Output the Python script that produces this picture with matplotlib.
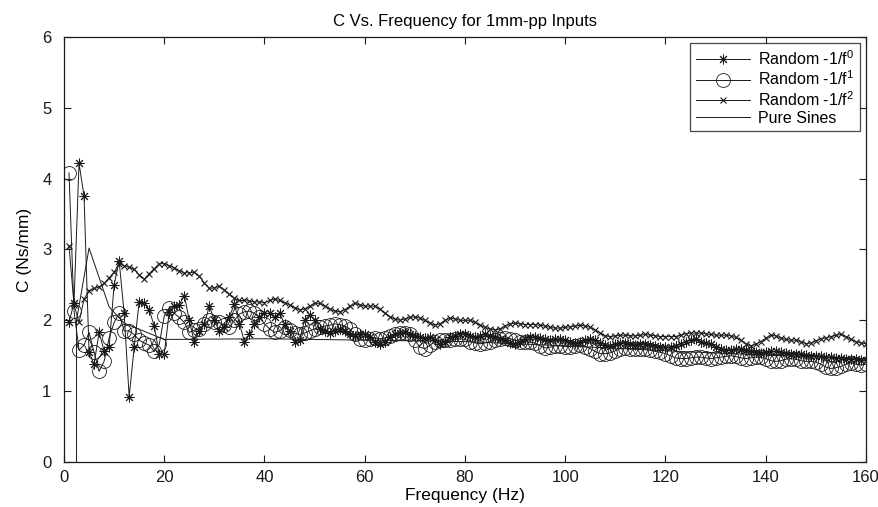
import numpy as np
import matplotlib
matplotlib.use("Agg")
import matplotlib.pyplot as plt

plt.rcParams['font.family'] = ['Liberation Sans', 'DejaVu Sans']
plt.rcParams['mathtext.fontset'] = 'custom'
plt.rcParams['mathtext.rm'] = 'Liberation Sans'
plt.rcParams['mathtext.it'] = 'Liberation Sans'

# frequency points of the random-input runs (1 Hz steps)
freq_hz = np.arange(1, 161)

# Random -1/f^0 (asterisks)
c_f0 = [
    1.97, 2.25, 4.22, 3.75, 1.55, 1.38, 1.83, 1.57, 1.62, 2.50,
    2.84, 2.10, 0.92, 1.62, 2.26, 2.24, 2.15, 1.92, 1.52, 1.52,
    2.12, 2.20, 2.22, 2.35, 2.00, 1.69, 1.85, 1.95, 2.20, 2.00,
    1.85, 1.90, 2.05, 2.23, 1.95, 1.70, 1.80, 1.95, 2.05, 2.10,
    2.10, 2.05, 2.10, 1.95, 1.85, 1.70, 1.72, 2.00, 2.08, 2.00,
    1.88, 1.85, 1.82, 1.85, 1.88, 1.85, 1.80, 1.78, 1.80, 1.80,
    1.76, 1.70, 1.66, 1.70, 1.76, 1.80, 1.82, 1.83, 1.80, 1.78,
    1.76, 1.75, 1.77, 1.72, 1.66, 1.70, 1.76, 1.78, 1.80, 1.80,
    1.78, 1.76, 1.78, 1.80, 1.78, 1.76, 1.74, 1.72, 1.68, 1.66,
    1.70, 1.74, 1.76, 1.76, 1.75, 1.73, 1.72, 1.73, 1.74, 1.72,
    1.70, 1.68, 1.69, 1.72, 1.74, 1.72, 1.68, 1.65, 1.64, 1.66,
    1.68, 1.68, 1.66, 1.65, 1.66, 1.66, 1.65, 1.64, 1.62, 1.62,
    1.63, 1.64, 1.66, 1.70, 1.72, 1.73, 1.70, 1.68, 1.66, 1.63,
    1.60, 1.58, 1.58, 1.59, 1.60, 1.58, 1.56, 1.55, 1.54, 1.55,
    1.56, 1.56, 1.55, 1.54, 1.53, 1.52, 1.52, 1.51, 1.50, 1.50,
    1.49, 1.48, 1.48, 1.47, 1.47, 1.46, 1.46, 1.45, 1.44, 1.44,
]

# Random -1/f^1 (circles)
c_f1 = [
    4.08, 2.13, 1.58, 1.65, 1.83, 1.55, 1.28, 1.42, 1.75, 1.97,
    2.10, 1.85, 1.85, 1.80, 1.72, 1.68, 1.65, 1.56, 1.66, 2.06,
    2.18, 2.10, 2.04, 1.97, 1.83, 1.86, 1.88, 1.95, 2.00, 1.98,
    1.97, 1.93, 1.90, 2.00, 2.09, 2.12, 2.13, 2.10, 2.04, 1.95,
    1.88, 1.83, 1.85, 1.90, 1.86, 1.82, 1.80, 1.82, 1.85, 1.88,
    1.90, 1.92, 1.93, 1.95, 1.94, 1.92, 1.88, 1.80, 1.73, 1.72,
    1.74, 1.75, 1.74, 1.75, 1.78, 1.80, 1.82, 1.82, 1.80, 1.72,
    1.62, 1.60, 1.65, 1.70, 1.72, 1.72, 1.72, 1.73, 1.74, 1.73,
    1.70, 1.68, 1.67, 1.68, 1.70, 1.72, 1.74, 1.75, 1.74, 1.72,
    1.70, 1.70, 1.69, 1.68, 1.64, 1.61, 1.62, 1.64, 1.64, 1.63,
    1.63, 1.64, 1.65, 1.63, 1.60, 1.56, 1.53, 1.53, 1.54, 1.57,
    1.60, 1.61, 1.60, 1.60, 1.60, 1.60, 1.58, 1.56, 1.55, 1.53,
    1.50, 1.47, 1.46, 1.46, 1.47, 1.48, 1.48, 1.47, 1.46, 1.47,
    1.48, 1.49, 1.50, 1.49, 1.47, 1.46, 1.47, 1.48, 1.48, 1.46,
    1.43, 1.42, 1.43, 1.45, 1.46, 1.45, 1.43, 1.42, 1.42, 1.41,
    1.38, 1.34, 1.32, 1.33, 1.35, 1.38, 1.40, 1.38, 1.37, 1.38,
]

# Random -1/f^2 (crosses)
c_f2 = [
    3.05, 2.22, 1.97, 2.30, 2.42, 2.45, 2.47, 2.52, 2.60, 2.68,
    2.80, 2.77, 2.75, 2.72, 2.64, 2.58, 2.66, 2.73, 2.80, 2.80,
    2.77, 2.74, 2.70, 2.67, 2.67, 2.68, 2.62, 2.53, 2.45, 2.46,
    2.48, 2.43, 2.37, 2.31, 2.28, 2.28, 2.27, 2.26, 2.26, 2.25,
    2.28, 2.30, 2.28, 2.25, 2.22, 2.18, 2.15, 2.16, 2.20, 2.24,
    2.24, 2.20, 2.16, 2.13, 2.12, 2.15, 2.20, 2.24, 2.22, 2.20,
    2.20, 2.20, 2.16, 2.10, 2.05, 2.02, 2.00, 2.02, 2.04, 2.05,
    2.03, 2.00, 1.96, 1.93, 1.95, 2.00, 2.03, 2.02, 2.00, 2.00,
    2.00, 1.97, 1.93, 1.90, 1.88, 1.86, 1.88, 1.92, 1.95, 1.96,
    1.95, 1.94, 1.94, 1.94, 1.93, 1.92, 1.90, 1.89, 1.89, 1.90,
    1.91, 1.92, 1.93, 1.92, 1.90, 1.86, 1.82, 1.78, 1.77, 1.78,
    1.79, 1.79, 1.78, 1.78, 1.79, 1.80, 1.79, 1.78, 1.77, 1.77,
    1.77, 1.77, 1.79, 1.81, 1.82, 1.82, 1.82, 1.81, 1.80, 1.79,
    1.79, 1.79, 1.78, 1.76, 1.72, 1.67, 1.64, 1.66, 1.70, 1.75,
    1.79, 1.78, 1.75, 1.73, 1.72, 1.72, 1.70, 1.67, 1.68, 1.71,
    1.74, 1.75, 1.77, 1.79, 1.80, 1.77, 1.73, 1.70, 1.68, 1.67,
]

# Pure Sines (plain line, few test frequencies)
sines_hz = [2.5, 2.5, 5, 9, 12, 20, 40, 60, 80, 100, 120, 140, 160]
c_sines = [-0.5, 2.0, 3.02, 2.19, 1.96, 1.73, 1.74, 1.72, 1.70, 1.64, 1.57, 1.51, 1.46]

labels = ['Random -1/f$^0$', 'Random -1/f$^1$', 'Random -1/f$^2$', 'Pure Sines']

ink = '#1a1a1a'

fig = plt.figure(figsize=(8.79, 5.07), dpi=100)
ax = fig.add_axes([0.0728, 0.0888, 0.9124, 0.8382])

ax.plot(freq_hz, c_f0, color=ink, lw=0.7, marker=(8, 2, 0), ms=7, mew=0.7,
        label=labels[0])
ax.plot(freq_hz, c_f1, color=ink, lw=0.7, marker='o', ms=10, mew=0.6,
        fillstyle='none', label=labels[1])
ax.plot(freq_hz, c_f2, color=ink, lw=0.7, marker='x', ms=5, mew=0.8,
        label=labels[2])
ax.plot(sines_hz, c_sines, color=ink, lw=0.7, label=labels[3])

ax.set_xlim(0, 160)
ax.set_ylim(0, 6)
ax.set_xticks(range(0, 161, 20))
ax.set_yticks(range(0, 7))
ax.tick_params(direction='in', length=5, width=0.8, top=True, right=True,
               labelsize=12, colors=ink)
ax.tick_params(axis='y', pad=9)
ax.tick_params(axis='x', pad=6)
for side in ax.spines.values():
    side.set_linewidth(0.9)
    side.set_color(ink)

ax.set_title('C Vs. Frequency for 1mm-pp Inputs', fontsize=12, pad=8)
ax.set_xlabel('Frequency (Hz)', fontsize=12.5, labelpad=2)
ax.set_ylabel('C (Ns/mm)', fontsize=12.5, labelpad=7)

leg = ax.legend(loc='upper right', fontsize=11.5, frameon=True, fancybox=False,
                handlelength=3.4, borderpad=0.35, labelspacing=0.12,
                handletextpad=0.5, borderaxespad=0.4)
leg.get_frame().set_edgecolor(ink)
leg.get_frame().set_linewidth(0.9)

fig.savefig('out.png', dpi=100)
